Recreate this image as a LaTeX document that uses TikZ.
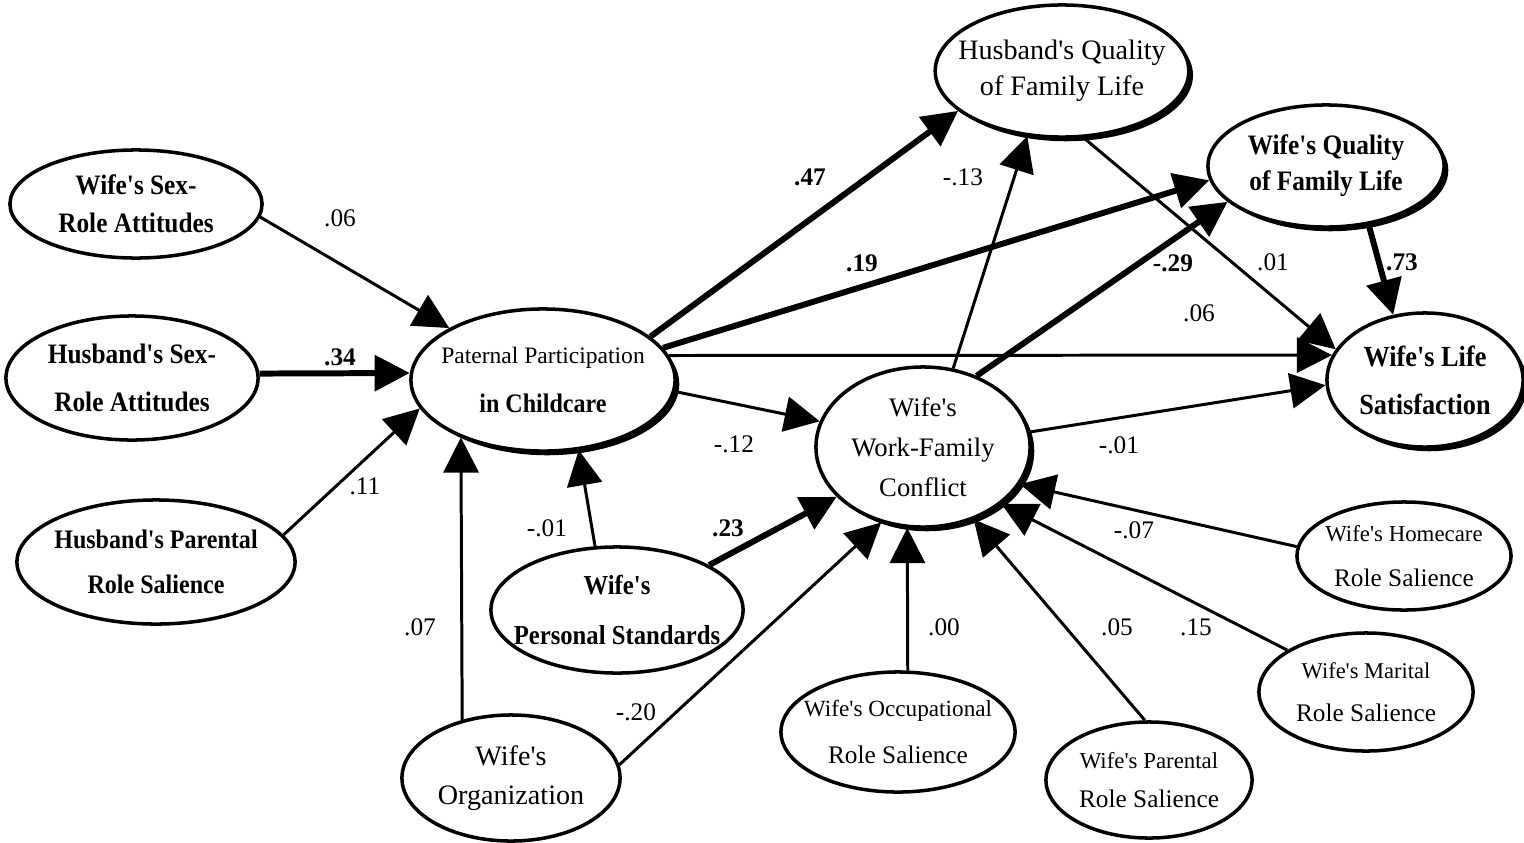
\documentclass[tikz,border=0pt]{standalone}
\usepackage{fontspec}
\setmainfont{Liberation Serif}
\newfontfamily\regfont{Liberation Serif}
\newfontfamily\narrowfont[FakeStretch=0.9]{Liberation Serif}
\usetikzlibrary{arrows.meta, shapes.geometric, shadows}

\newcommand{\heavytext}[2]{\narrowfont\bfseries\fontsize{#1}{#2}\selectfont}
\newcommand{\plaintext}[2]{\regfont\fontsize{#1}{#2}\selectfont}

\begin{document}
\begin{tikzpicture}[x=0.01cm, y=-0.01cm, >={Triangle[length=10pt, width=10pt]},
    var/.style={ellipse, draw, line width=1pt, fill=white, inner xsep=-4pt, inner ysep=-2pt, align=center},
    shade/.style={drop shadow={shadow xshift=1.2pt, shadow yshift=-1.2pt, fill=black, opacity=1}},
    coef/.style={font=\plaintext{7.2}{8}, inner sep=0pt},
    weak/.style={line width=0.85pt},
    strong/.style={line width=1.7pt}]
     \useasboundingbox (0,0) rectangle (1524,842);

     % left side
     \node[var, minimum width=2.52cm, minimum height=1.08cm, font=\heavytext{8}{10.8}] (wsex)  at (136,204) {Wife's Sex-\\Role Attitudes};
     \node[var, minimum width=2.52cm, minimum height=1.24cm, font=\heavytext{8}{13.7}] (hsex)  at (132,378) {Husband's Sex-\\Role Attitudes};
     \node[var, minimum width=2.78cm, minimum height=1.24cm, font=\heavytext{7.6}{12.8}] (hpar) at (156,562) {Husband's Parental\\Role Salience};
     \node[var, shade, minimum width=2.64cm, minimum height=1.42cm, font=\plaintext{6.7}{13.7}] (pat) at (543,380) {Paternal Participation\\{\heavytext{7.6}{13.7}in Childcare}};
     \node[var, minimum width=2.18cm, minimum height=1.26cm, font=\plaintext{8}{11}]     (worg)  at (511,778) {Wife's\\Organization};
     \node[var, minimum width=2.40cm, minimum height=1.26cm, font=\heavytext{7.8}{14.2}] (wps)  at (617,610) {Wife's\\Personal Standards};

     % top and right
     \node[var, shade, minimum width=2.52cm, minimum height=1.32cm, font=\plaintext{8}{10.3}]   (hqual) at (1062,71)  {Husband's Quality\\of Family Life};
     \node[var, shade, minimum width=2.36cm, minimum height=1.22cm, font=\heavytext{8}{10.3}]  (wqual) at (1326,166) {Wife's Quality\\of Family Life};
     \node[var, shade, minimum width=1.96cm, minimum height=1.34cm, font=\heavytext{8.3}{13.7}] (wls)  at (1425,380) {Wife's Life\\Satisfaction};
     \node[var, shade, minimum width=2.14cm, minimum height=1.60cm, font=\plaintext{7.6}{11.4}] (wfc)  at (923,447)  {Wife's\\Work-Family\\Conflict};

     % bottom
     \node[var, minimum width=2.34cm, minimum height=1.20cm, font=\plaintext{7.2}{13.4}] (wocc)  at (898,732)  {{\plaintext{6.6}{8}Wife's Occupational}\\Role Salience};
     \node[var, minimum width=2.06cm, minimum height=1.16cm, font=\plaintext{7.2}{10.9}] (wpar)  at (1149,780) {{\plaintext{6.5}{8}Wife's Parental}\\Role Salience};
     \node[var, minimum width=2.14cm, minimum height=1.18cm, font=\plaintext{7.2}{12.3}] (wmar)  at (1366,692) {{\plaintext{6.4}{8}Wife's Marital}\\Role Salience};
     \node[var, minimum width=2.14cm, minimum height=1.08cm, font=\plaintext{7.2}{12.8}] (whome) at (1404,556) {{\plaintext{6.5}{8}Wife's Homecare}\\Role Salience};

     \path[->, weak] (wsex.-6)   edge               (pat.151)
               (hsex.2)    edge [strong]      (pat.177)
               (hpar.12)   edge               (pat.193)
               (worg.130)  edge               (pat.215)
               (wps.109)   edge               (pat.-63)
               (pat.22)    edge [strong]      (hqual.201)
               (pat.15)    edge [strong]      (wqual.187)
               (pat.11)    edge               (wls.165)
               (pat.-5)    edge               (wfc.166)
               (wfc.69)    edge               (hqual.242)
               (wfc.53)    edge [strong]      (wqual.200)
               (wfc.8)     edge               (wls.183)
               (hqual.-72) edge               (wls.161)
               (wqual.-54) edge [strong]      (wls.116)
               (wps.26)    edge [strong]      (wfc.210)
               (worg.7)    edge               (wfc.241)
               (wocc.81)   edge               (wfc.259)
               (wpar.94)   edge               (wfc.-55)
               (wmar.152)  edge               (wfc.-36)
               (whome.175) edge               (wfc.-21);

     % path coefficients
     \node[coef] (c1)  at (340,218)  {.06};
     \node[coef] (c2)  at (340,357)  {\bfseries .34};
     \node[coef] (c3)  at (365,486)  {.11};
     \node[coef] (c4)  at (420,627)  {.07};
     \node[coef] (c5)  at (547,528)  {-.01};
     \node[coef] (c6)  at (810,177)  {\bfseries .47};
     \node[coef] (c7)  at (862,263)  {\bfseries .19};
     \node[coef] (c8)  at (1199,313) {.06};
     \node[coef] (c9)  at (734,444)  {-.12};
     \node[coef] (c10) at (963,177)  {-.13};
     \node[coef] (c11) at (1173,263) {\bfseries -.29};
     \node[coef] (c12) at (1273,262) {.01};
     \node[coef] (c13) at (1402,262) {\bfseries .73};
     \node[coef] (c14) at (1119,445) {-.01};
     \node[coef] (c15) at (728,528)  {\bfseries .23};
     \node[coef] (c16) at (636,712)  {-.20};
     \node[coef] (c17) at (944,627)  {.00};
     \node[coef] (c18) at (1117,627) {.05};
     \node[coef] (c19) at (1196,627) {.15};
     \node[coef] (c20) at (1134,530) {-.07};
\end{tikzpicture}
\end{document}
